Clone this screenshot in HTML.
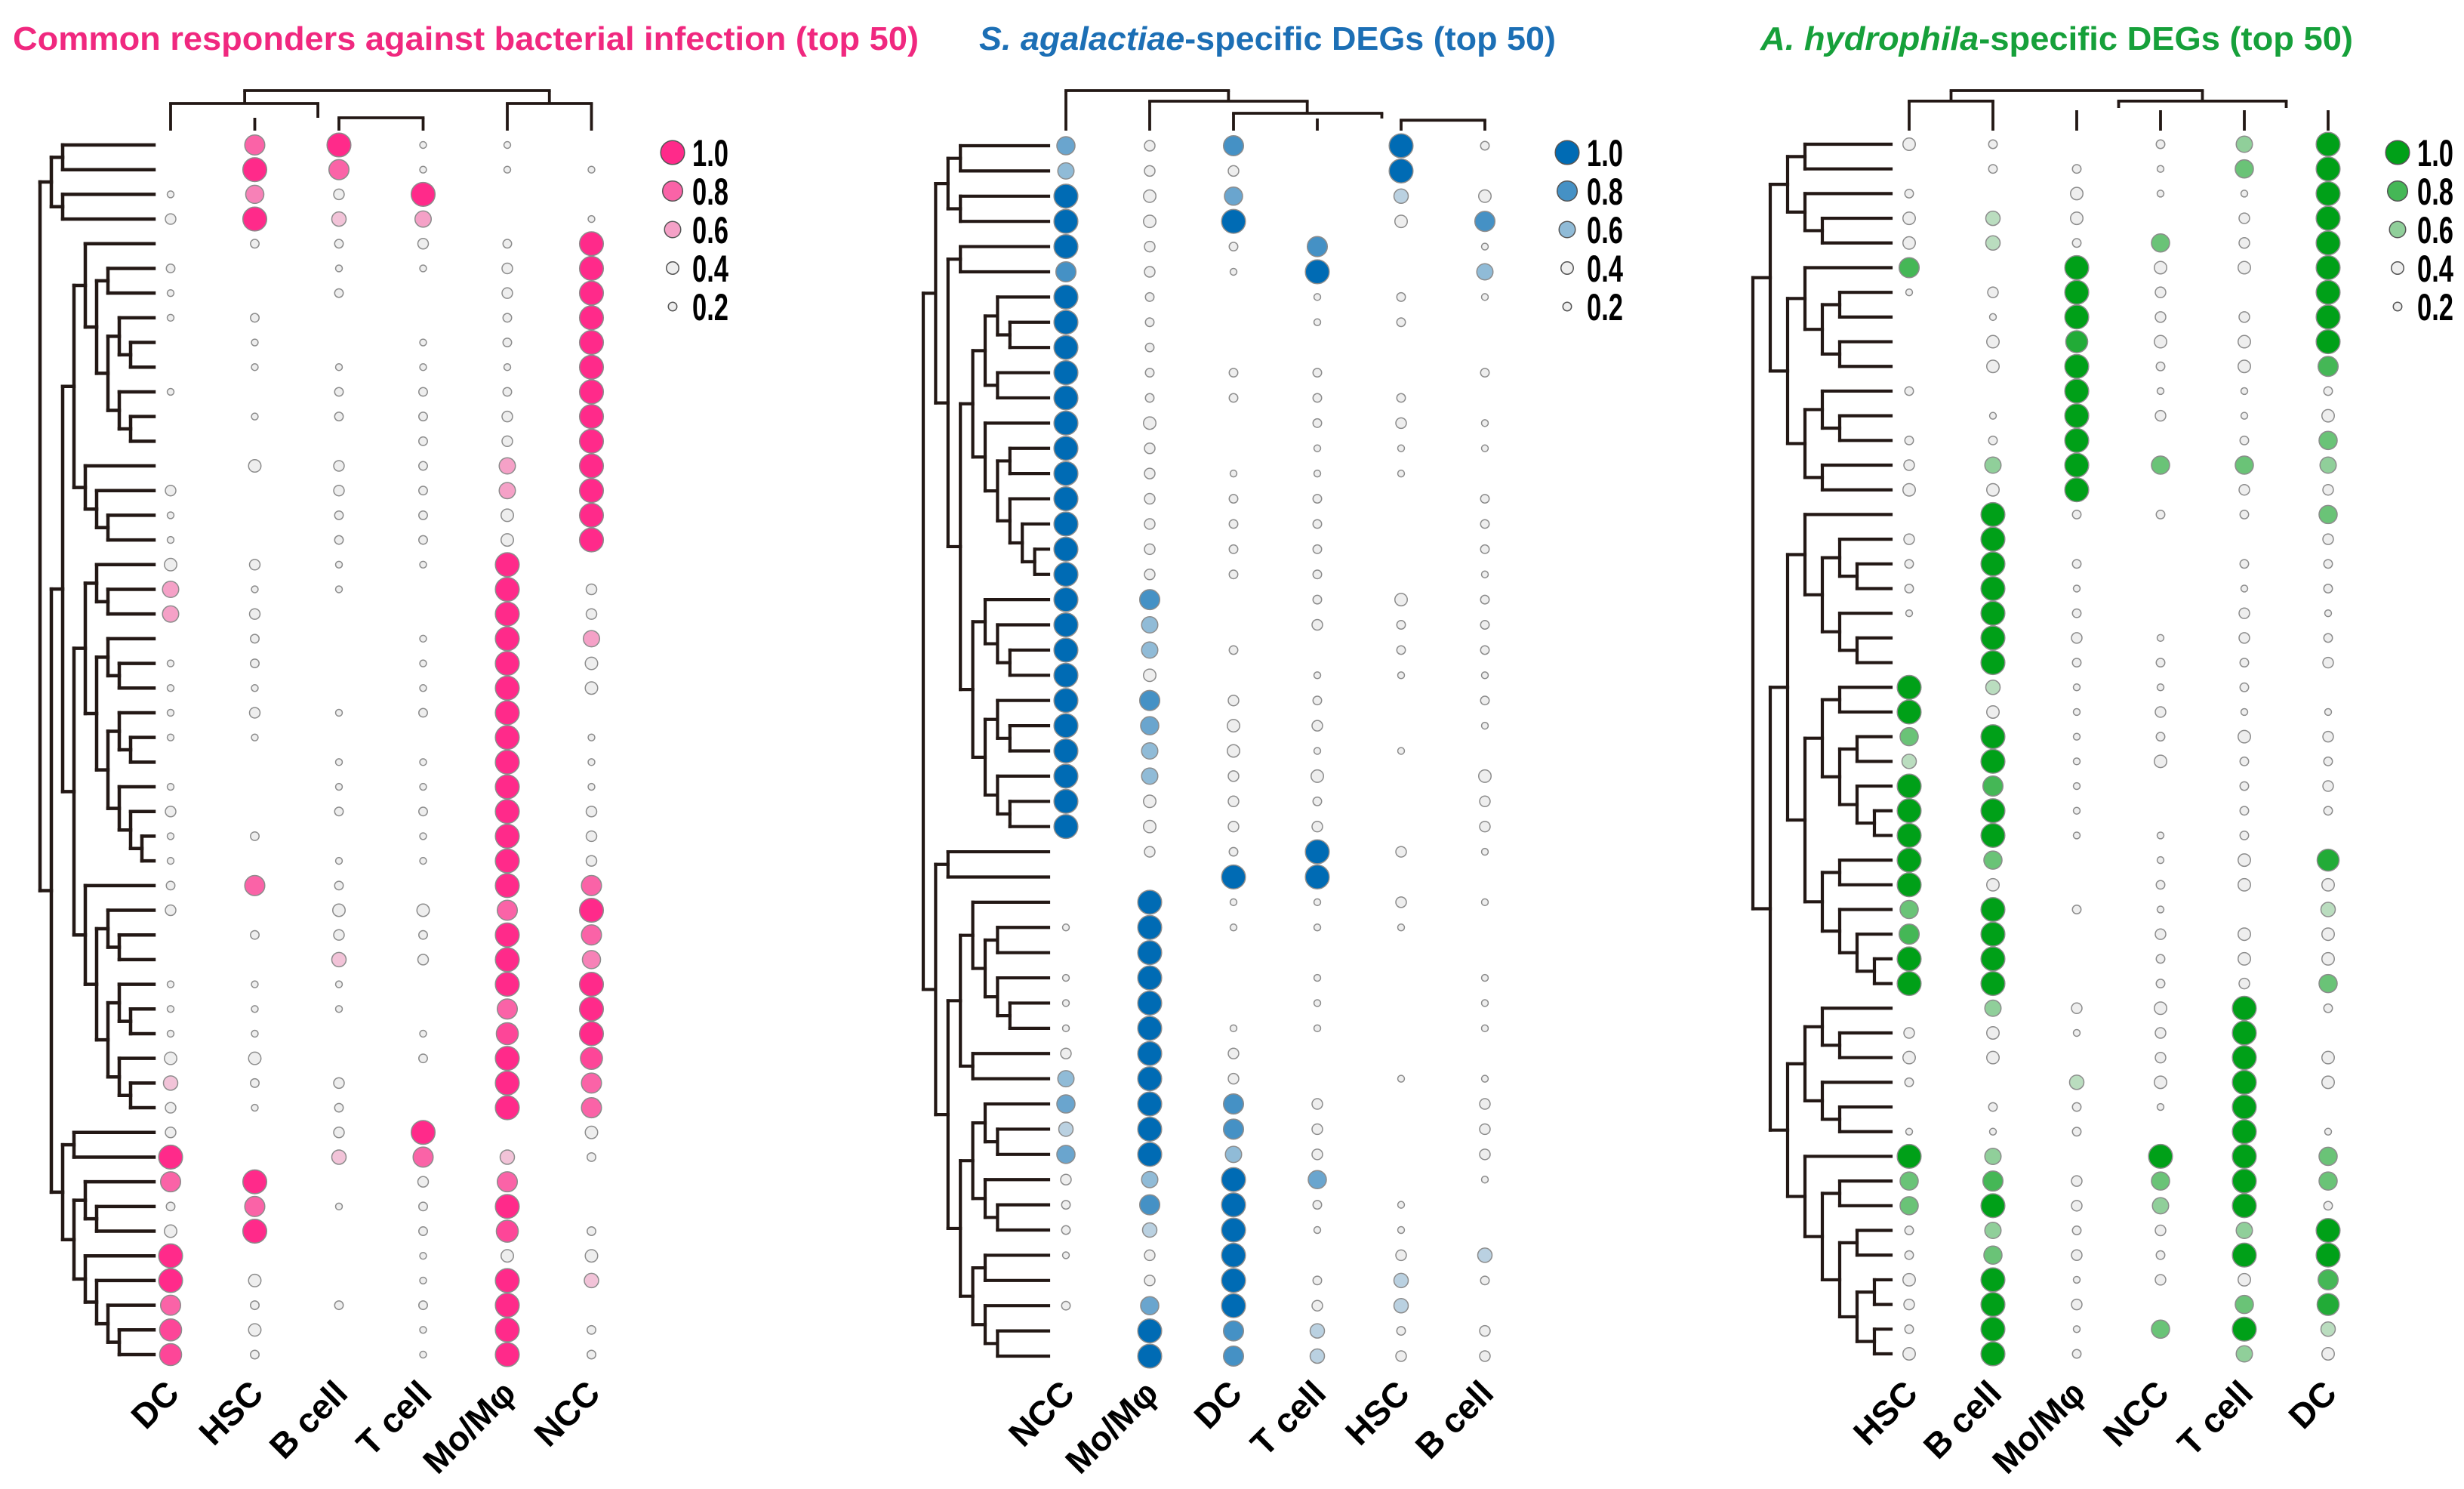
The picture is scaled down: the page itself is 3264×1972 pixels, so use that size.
<!DOCTYPE html>
<html><head><meta charset="utf-8">
<style>
html,body{margin:0;padding:0;background:#fff;}
svg{display:block;}
text{font-family:"Liberation Sans",sans-serif;font-weight:bold;}
</style></head>
<body>
<svg id="chart" width="3264" height="1972" viewBox="0 0 3264 1972" xmlns="http://www.w3.org/2000/svg">
<g id="titles">
<text x="17" y="66" font-size="44" fill="#f0287f" textLength="1200" lengthAdjust="spacingAndGlyphs">Common responders against bacterial infection (top 50)</text>
<text x="1297" y="66" font-size="44" fill="#1c6fb5" textLength="764" lengthAdjust="spacingAndGlyphs"><tspan font-style="italic">S. agalactiae</tspan>-specific DEGs (top 50)</text>
<text x="2332" y="66" font-size="44" fill="#16a03a" textLength="785" lengthAdjust="spacingAndGlyphs"><tspan font-style="italic">A. hydrophila</tspan>-specific DEGs (top 50)</text>
</g>
</svg>
<script>
// ---------- data ----------
// value codes: '-' none, '1'..'9' = tenths, 'X' = 1.0
const p1Columns = ["DC","HSC","B cell","T cell","Mo/M\u03c6","NCC"];
const p1Rows = ["-8X11-","-X8111","173X--","3X56-1","-2232X","2-113X","1-2-3X","12--2X","-1-12X","-1111X",
"1-222X","-1223X","---23X","-4326X","3-326X","1-224X","1-224X","4311X-","611-X3","63--X3",
"-2-1X6","12-1X4","11-1X4","1312X-","11--X1","--11X1","1-11X1","3-22X3","12-1X3","1-11X3",
"282-X8","3-448X","-232X8","--53X7","111-XX","111-8X","11-19X","44-2X9","523-X8","312-X8",
"3-3X-4","X-5852","8X-38-","2812X-","4X-292","X--144","X4-1X5","8222X-","94-1X2","92-1X2"];
const p2Columns = ["NCC","Mo/M\u03c6","DC","T cell","HSC","B cell"];
const p2Rows = ["738-X2","633-X-","X47-54","X4X-48","X328-1","831X-6","X2-121","X2-12-","X2----","X222-2",
"X2222-","X4-231","X3-111","X3111-","X322-2","X322-2","X322-2","X322-1","X8-242","X6-322",
"X62-22","X4-111","X832-2","X743-1","X6411-","X634-4","X432-3","X433-3","-32X31","--XX--",
"-X1131","1X111-","-X----","1X-1-1","1X-1-1","1X11-1","3X3---","6X3-11","7X83-3","5X83-3",
"7X63-3","36X7-1","28X21-","25X11-","13X-35","-3X252","27X35-","-X8523","-X8533"];
const p3Columns = ["HSC","B cell","Mo/M\u03c6","NCC","T cell","DC"];
const p3Rows = ["42-26X","-2217X","2-411X","454-3X","45273X","8-X44X","13X3-X","-1X33X","-4944X","-4X248",
"2-X112","-1X314","22X-27","36X776","44X-33","-X2227","3X---3","2X2-22","2X1-12","1X2-31",
"-X3132","-X2223","X5112-","X41311","7X1243","5X1422","X81-23","XX1-22","XX112-","X7-149",
"X4-244","7X21-5","8X-344","XX-244","XX-237","-634X2","3413X-","44-3X4","2-54X4","-221X-",
"112-X1","X6-XX7","7837X7","7X36X2","26236X","2732XX","4X1348","3X3-79","2X17X5","4X2-64"];
const legendValues = [1.0,0.8,0.6,0.4,0.2];
const legendLabels = ["1.0","0.8","0.6","0.4","0.2"];

// row dendrograms: node = [level, left, right], leaf = row number (1-based)
const p1Tree = [0,
 [1,[2,1,2],[2,3,4]],
 [1,
  [2,
   [3,[4,5,[5,[6,6,7],[6,[7,8,[8,9,10]],[7,11,[8,12,13]]]]],[4,14,[5,15,[6,16,17]]]],
   [3,[4,[5,18,[6,19,20]],[5,[6,21,[7,22,23]],[6,[7,24,[8,25,26]],[7,27,[8,28,[9,29,30]]]]]],
      [4,31,[5,[6,32,[7,33,34]],[6,[7,35,[8,36,37]],[7,38,[8,39,40]]]]]]],
  [2,[3,41,42],[3,[4,43,[5,44,45]],[4,46,[5,47,[6,48,[7,49,50]]]]]]]];
const p2Tree = [0,
 [1,[2,[3,1,2],[3,3,4]],
    [2,[3,5,6],
       [3,[4,[5,[6,7,[7,8,9]],[6,10,11]],[5,12,[6,[7,13,14],[7,15,[8,16,[9,17,18]]]]]],
          [4,[5,19,[6,20,[7,21,22]]],[5,[6,23,[7,24,25]],[6,26,[7,27,28]]]]]]],
 [1,[2,29,30],
    [2,[3,[4,31,[5,[6,32,33],[6,34,[7,35,36]]]],[4,37,38]],
       [3,[4,[5,39,[6,40,41]],[5,42,[6,43,44]]],[4,[5,45,46],[5,47,[6,48,49]]]]]]];
const p3Tree = [0,
 [1,[2,[3,1,2],[3,3,[4,4,5]]],
    [2,[3,6,[4,[5,7,8],[5,9,10]]],[3,[4,11,[5,12,13]],[4,14,15]]]],
 [1,
  [2,[3,16,[4,[5,17,[6,18,19]],[5,20,[6,21,22]]]],
     [3,[4,[5,23,24],[5,[6,25,26],[6,27,[7,28,29]]]],[4,[5,30,31],[5,32,[6,33,[7,34,35]]]]]],
  [2,[3,[4,36,[5,37,38]],[4,39,[5,40,41]]],
     [3,42,[4,[5,43,44],[5,[6,45,46],[6,[7,47,48],[7,49,50]]]]]]]];

// column dendrograms: horizontals [col1,col2,yIdx], verticals [col,yIdx1,yIdx2]
const p1ColH = [[0.88,4.5,0],[0,1.75,1],[2,3,2],[4,5,1]];
const p1ColV = [[0.88,0,1],[4.5,0,1],[0,1,3],[1.75,1,2],[1,2,3],[2,2,3],[3,2,3],[4,1,3],[5,1,3]];
const p2ColH = [[0,1.94,0],[1,2.88,1],[2,3.77,2],[4,5,2.4]];
const p2ColV = [[0,0,3],[1.94,0,1],[1,1,3],[2.88,1,2],[2,2,3],[3.77,2,2.3],[3,2.3,3],[4,2.4,3],[5,2.4,3]];
const p3ColH = [[0.5,3.5,0],[0,1,1.3],[2.5,4.5,1.3]];
const p3ColV = [[0.5,0,1.3],[3.5,0,1.3],[0,1.3,3],[1,1.3,3],[2.5,1.3,2],[4.5,1.3,2],[2,2.1,3],[3,2.1,3],[4,2.1,3],[5,2.1,3]];

// ---------- layout ----------
const NS = "http://www.w3.org/2000/svg";
const svg = document.getElementById("chart");
const panels = [
 {key:"common", rows:p1Rows, cols:p1Columns, tree:p1Tree, colH:p1ColH, colV:p1ColV, full:[255,42,138],
  x0:226, dx:111.5, y0:192, y1:1794, rootX:53, levelStep:15, leafEnd:204, legendX:891, colY:[120,137,156,173], dendW:4.5},
 {key:"sag", rows:p2Rows, cols:p2Columns, tree:p2Tree, colH:p2ColH, colV:p2ColV, full:[0,107,180],
  x0:1412, dx:111.0, y0:193, y1:1796, rootX:1223, levelStep:16.4, leafEnd:1389, legendX:2076, colY:[120,134,150,173], dendW:4.2},
 {key:"ahy", rows:p3Rows, cols:p3Columns, tree:p3Tree, colH:p3ColH, colV:p3ColV, full:[0,160,24],
  x0:2529, dx:111.0, y0:191, y1:1793, rootX:2322, levelStep:23, leafEnd:2505, legendX:3176, colY:[120,130,143,173], dendW:4.2}
];
function val(ch){ if(ch==='-') return 0; if(ch==='X') return 1; return parseInt(ch,10)/10; }
function rScale(v){ return 3.2 + 12.6*v; }
function color(v, full){
  const g=[238,238,238];
  if(v<=0.4) return "rgb(238,238,238)";
  const t=Math.pow((v-0.4)/0.6,0.85);
  const c=g.map((gv,i)=>Math.round(gv+(full[i]-gv)*t));
  return "rgb("+c.join(",")+")";
}
function mk(tag, attrs, parent){
  const el=document.createElementNS(NS,tag);
  for(const k in attrs) el.setAttribute(k,attrs[k]);
  parent.appendChild(el); return el;
}

panels.forEach(p=>{
  const g=mk("g",{},svg);
  
  
  const n=p.rows.length;
  const rowY=i=>p.y0+(i-1)*(p.y1-p.y0)/(n-1);
  const colX=c=>p.x0+c*p.dx;
  const lvX=k=>p.rootX+k*p.levelStep;

  const dg=mk("g",{stroke:"#231815","stroke-width":p.dendW,fill:"none","stroke-linecap":"square"},g);
  
  
  function draw(node){
    if(typeof node==="number") return {y:rowY(node), x:p.leafEnd};
    const x=lvX(node[0]);
    const a=draw(node[1]), b=draw(node[2]);
    const ln1=mk("line",{x1:x,y1:a.y,x2:x,y2:b.y},dg);
    
    
    [a,b].forEach(c=>{
      const h=mk("line",{x1:x,y1:c.y,x2:c.x,y2:c.y},dg);
      
      
    });
    return {y:(a.y+b.y)/2, x:x};
  }
  draw(p.tree);

  const cg=mk("g",{stroke:"#231815","stroke-width":3.8,fill:"none"},g);
  
  
  const cy=k=>{const i=Math.floor(k),f=k-i; if(i>=3) return p.colY[3]; return p.colY[i]+f*(p.colY[i+1]-p.colY[i]);};
  p.colH.forEach(s=>{
    const l=mk("line",{x1:colX(s[0])-1.9,y1:cy(s[2]),x2:colX(s[1])+1.9,y2:cy(s[2])},cg);
    
    
  });
  p.colV.forEach(s=>{
    const l=mk("line",{x1:colX(s[0]),y1:cy(s[1]),x2:colX(s[0]),y2:cy(s[2])},cg);
    
    
  });

  const dots=mk("g",{},g);
  
  
  p.rows.forEach((row,ri)=>{
    for(let c=0;c<row.length;c++){
      const v=val(row[c]); if(v<=0) continue;
      const d=mk("circle",{cx:colX(c),cy:rowY(ri+1),r:rScale(v),fill:color(v,p.full),stroke:"#8c8c8c","stroke-width":1.5},dots);
      
      
    }
  });

  p.cols.forEach((name,c)=>{
    const x=colX(c)+14, y=1848;
    const t=mk("text",{x:x,y:y,"font-size":46,"text-anchor":"end",transform:"rotate(-45 "+x+" "+y+")",fill:"#000"},g);
    t.textContent=name;
    
    
  });

  const lg=mk("g",{},g);
  
  
  const legY=[202,253,304,355,406];
  legendValues.forEach((v,i)=>{
    const c=mk("circle",{cx:p.legendX,cy:legY[i],r:rScale(v),fill:color(v,p.full),stroke:"#555","stroke-width":1.5},lg);
    
    
    const t=mk("text",{x:p.legendX+26,y:legY[i]+18,"font-size":50,fill:"#000",textLength:48,lengthAdjust:"spacingAndGlyphs"},lg);
    t.textContent=legendLabels[i];
    
    
  });
});
</script>
</body></html>
